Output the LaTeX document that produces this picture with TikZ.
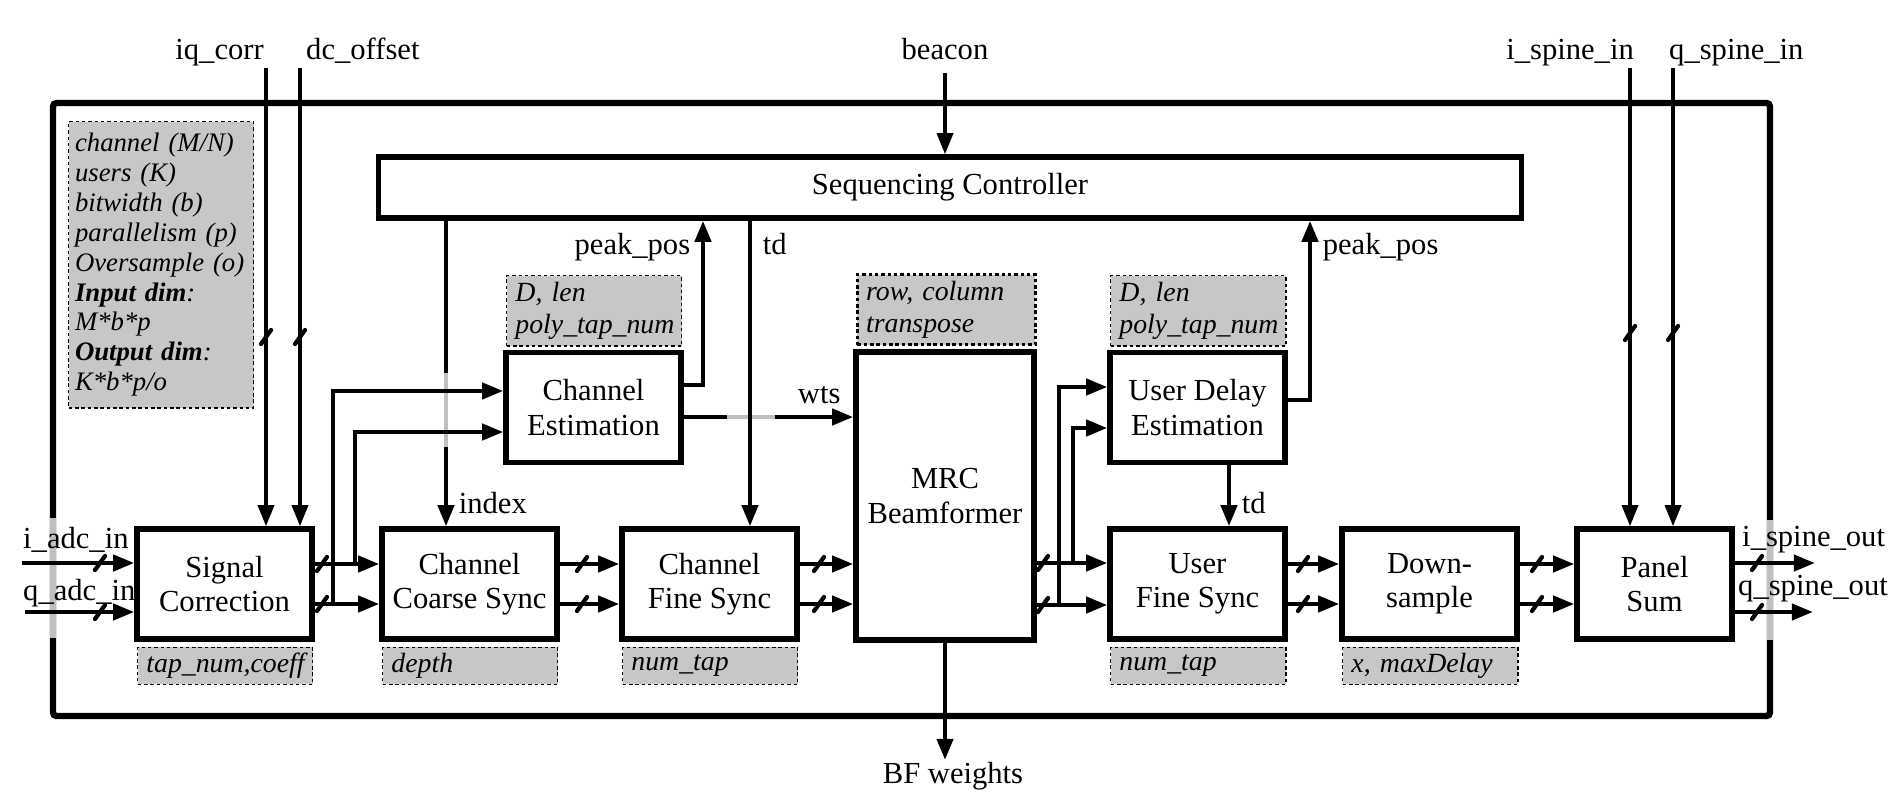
\documentclass[tikz,border=0pt]{standalone}
\usepackage{fontspec}
\setmainfont{Liberation Serif}
\usetikzlibrary{arrows.meta, positioning}

\tikzset{
  blk/.style = {draw, line width=1.5pt, align=center, minimum width=1.75cm,
                minimum height=1.1cm, inner sep=1pt, font=\fontsize{8.7}{9.7}\selectfont},
  parbox/.style = {draw, dash pattern=on 1pt off 0.8pt, line width=0.4pt, fill=black!22,
                   align=left, inner xsep=2.5pt, inner ysep=1pt, text width=44.8pt,
                   minimum height=10.5pt, font=\fontsize{7.9}{9.1}\selectfont\itshape},
  sig/.style = {line width=1.3pt, -{Triangle[length=6pt,width=4.5pt]}},
  ctl/.style = {line width=1.1pt, -{Triangle[length=6pt,width=4.5pt]}},
  lbl/.style = {font=\fontsize{8.7}{9.7}\selectfont, inner sep=1pt},
  hop/.style = {draw=black!25, line width=1.3pt},
  bus/.pic = {\draw[line width=1.2pt, line cap=round] (-5,7) -- (5,-7);},
}

\begin{document}
\begin{tikzpicture}[x=0.01cm, y=-0.01cm]
    \useasboundingbox (0,0) rectangle (1900,800);

    % outer frame
    \draw[line width=1.8pt, rounded corners=1pt] (53,103) rectangle (1770,716);
    \draw[hop, line width=1.8pt] (53,518) -- (53,638);
    \draw[hop, line width=1.8pt] (1770,520) -- (1770,640);

    % blocks
    \node[blk, minimum width=11.42cm, minimum height=0.61cm](Seq_Ctrl) at (950,187.5) {Sequencing Controller};
    \node[blk](Sig_Corr) at (224.5,584) {Signal\\Correction};
    \node[blk](Coarse_Sync) at (469.5,584) {Channel\\Coarse Sync};
    \node[blk](Fine_Sync) at (709.5,584) {Channel\\Fine Sync};
    \node[blk](Ch_Est) at (593.5,407.5) {Channel\\Estimation};
    \node[blk, minimum width=1.78cm, minimum height=2.88cm](MRC) at (945,496) {MRC\\Beamformer};
    \node[blk](User_Delay) at (1197.5,407.5) {User Delay\\Estimation};
    \node[blk](User_Fine) at (1197.5,584) {User\\Fine Sync};
    \node[blk](Down_Smp) at (1429.5,584) {Down-\\sample};
    \node[blk, minimum width=1.55cm](Panel_Sum) at (1654.5,584) {Panel\\Sum};

    % parameter boxes
    \node[parbox, anchor=north west, inner xsep=1.8pt, text width=49pt, minimum height=2.86cm,
          font=\fontsize{7.6}{8.5}\selectfont\itshape](Gen_Par) at (68,121)
        {channel (M/N)\\users (K)\\bitwidth (b)\\parallelism (p)\\Oversample (o)\\
         \textbf{Input dim}:\\M*b*p\\\textbf{Output dim}:\\K*b*p/o};
    \node[parbox, below right=0.5mm and 0.75pt of Sig_Corr.south west](Sig_Par) {tap\_num,coeff};
    \node[parbox, below right=0.5mm and 0.75pt of Coarse_Sync.south west](Coarse_Par) {depth};
    \node[parbox, below right=0.5mm and 0.75pt of Fine_Sync.south west](Fine_Par) {num\_tap};
    \node[parbox, below right=0.5mm and 0.75pt of User_Fine.south west](User_Par) {num\_tap};
    \node[parbox, below right=0.5mm and 0.75pt of Down_Smp.south west](Down_Par) {x, maxDelay};
    \node[parbox, minimum height=20pt, above right=0.3mm and 0.75pt of Ch_Est.north west](Est_Par) {D, len\\poly\_tap\_num};
    \node[parbox, minimum height=20pt, above right=0.3mm and 0.75pt of User_Delay.north west](Delay_Par) {D, len\\poly\_tap\_num};
    \node[parbox, minimum height=20pt, line width=0.8pt, text width=45.6pt,
          above right=0.3mm and 0.75pt of MRC.north west](MRC_Par) {row, column\\transpose};

    % top inputs
    \coordinate (iq_top) at (266,68);
    \coordinate (dc_top) at (300,68);
    \coordinate (bc_top) at (945,73);
    \coordinate (is_top) at (1630,68);
    \coordinate (qs_top) at (1673,68);
    \node[lbl, anchor=base east](iq_lbl) at (268,59) {iq\_corr};
    \node[lbl, anchor=base west](dc_lbl) at (302,59) {dc\_offset};
    \node[lbl, anchor=base](bc_lbl) at (945,59) {beacon};
    \node[lbl, anchor=base east](is_lbl) at (1638,59) {i\_spine\_in};
    \node[lbl, anchor=base west](qs_lbl) at (1665,59) {q\_spine\_in};

    \draw[ctl] (iq_top) -- (iq_top |- Sig_Corr.north);
    \draw[ctl] (dc_top) -- (dc_top |- Sig_Corr.north);
    \draw[ctl] (bc_top) -- (bc_top |- Seq_Ctrl.north);
    \draw[ctl] (is_top) -- (is_top |- Panel_Sum.north);
    \draw[ctl] (qs_top) -- (qs_top |- Panel_Sum.north);

    % adc inputs
    \coordinate (i_adc) at (22,563);
    \coordinate (q_adc) at (25,612);
    \node[lbl, anchor=base west](i_adc_lbl) at (19,548) {i\_adc\_in};
    \node[lbl, anchor=base west](q_adc_lbl) at (19,600) {q\_adc\_in};
    \draw[sig] (i_adc) -- (i_adc -| Sig_Corr.west);
    \draw[sig] (q_adc) -- (q_adc -| Sig_Corr.west);

    % sequencing controller outputs
    \coordinate (idx) at (446,0);
    \draw[sig] (idx |- Seq_Ctrl.south) -- (idx |- Coarse_Sync.north) node[lbl, anchor=south west, inner sep=3pt] {index};
    \coordinate (wts_s) at ([yshift=-0.95mm]Ch_Est.east);
    \draw[sig] (wts_s) -- (wts_s -| MRC.west) node[lbl, anchor=south east, inner sep=3pt] {wts};
    \draw[hop] (446,373) -- (446,447);
    \draw[hop] (727,417) -- (775,417);
    \coordinate (td_x) at (750,0);
    \draw[sig] (td_x |- Seq_Ctrl.south) node[lbl, anchor=north west, inner sep=3pt] {td} -- (td_x |- Fine_Sync.north);

    % main chain
    \draw[sig] ([yshift=2mm]Sig_Corr.east) -- ([yshift=2mm]Coarse_Sync.west);
    \draw[sig] ([yshift=-2mm]Sig_Corr.east) -- ([yshift=-2mm]Coarse_Sync.west);
    \draw[sig] ([yshift=2mm]Coarse_Sync.east) -- ([yshift=2mm]Fine_Sync.west);
    \draw[sig] ([yshift=-2mm]Coarse_Sync.east) -- ([yshift=-2mm]Fine_Sync.west);
    \coordinate (FS_i) at ([yshift=2mm]Fine_Sync.east);
    \coordinate (FS_q) at ([yshift=-2mm]Fine_Sync.east);
    \draw[sig] (FS_i) -- (FS_i -| MRC.west);
    \draw[sig] (FS_q) -- (FS_q -| MRC.west);
    \coordinate (UF_i) at ([yshift=2.1mm]User_Fine.west);
    \coordinate (UF_q) at ([yshift=-2.1mm]User_Fine.west);
    \draw[sig] (UF_i -| MRC.east) -- (UF_i);
    \draw[sig] (UF_q -| MRC.east) -- (UF_q);
    \draw[sig] ([yshift=2mm]User_Fine.east) -- ([yshift=2mm]Down_Smp.west);
    \draw[sig] ([yshift=-2mm]User_Fine.east) -- ([yshift=-2mm]Down_Smp.west);
    \draw[sig] ([yshift=2mm]Down_Smp.east) -- ([yshift=2mm]Panel_Sum.west);
    \draw[sig] ([yshift=-2mm]Down_Smp.east) -- ([yshift=-2mm]Panel_Sum.west);

    % taps to the estimators
    \coordinate (tap_i) at (355,564);
    \coordinate (tap_q) at (333,604);
    \draw[sig] (tap_i) |- ([yshift=-2.45mm]Ch_Est.west);
    \draw[sig] (tap_q) |- ([yshift=1.65mm]Ch_Est.west);
    \coordinate (tap_i2) at (1073,563);
    \coordinate (tap_q2) at (1059,605);
    \draw[sig] (tap_i2) |- ([yshift=-2.05mm]User_Delay.west);
    \draw[sig] (tap_q2) |- ([yshift=2.05mm]User_Delay.west);

    % feedback to the controller
    \coordinate (pk_l) at (703,0);
    \draw[sig] ([yshift=2.25mm]Ch_Est.east) -| (pk_l |- Seq_Ctrl.south) node[lbl, anchor=north east, inner sep=3pt] {peak\_pos};
    \coordinate (pk_r) at (1310,0);
    \draw[sig] ([yshift=0.75mm]User_Delay.east) -| (pk_r |- Seq_Ctrl.south) node[lbl, anchor=north west, inner sep=3pt] {peak\_pos};
    \coordinate (td_r) at (1229,0);
    \draw[sig] (td_r |- User_Delay.south) -- (td_r |- User_Fine.north) node[lbl, anchor=south west, inner sep=3pt] {td};

    % outputs
    \coordinate (bf_end) at (945,760);
    \draw[sig] (MRC.south) -- (bf_end) node[lbl, anchor=north, inner sep=0pt, xshift=0.08cm] {BF weights};
    \coordinate (is_out) at (1815,563);
    \coordinate (qs_out) at (1813,612);
    \draw[sig] (is_out -| Panel_Sum.east) -- (is_out);
    \draw[sig] (qs_out -| Panel_Sum.east) -- (qs_out);
    \node[lbl, anchor=base west](is_out_lbl) at (1738,546) {i\_spine\_out};
    \node[lbl, anchor=base west](qs_out_lbl) at (1734,595) {q\_spine\_out};

    % bus marks
    \pic at (266,337) {bus};
    \pic at (300,337) {bus};
    \pic at (1630,333) {bus};
    \pic at (1673,333) {bus};
    \pic at (100,563) {bus};
    \pic at (100,612) {bus};
    \pic at (322,564) {bus};
    \pic at (322,604) {bus};
    \pic at (582,564) {bus};
    \pic at (582,604) {bus};
    \pic at (819,564) {bus};
    \pic at (819,604) {bus};
    \pic at (1043,563) {bus};
    \pic at (1043,605) {bus};
    \pic at (1303,564) {bus};
    \pic at (1303,604) {bus};
    \pic at (1537,564) {bus};
    \pic at (1537,604) {bus};
    \pic at (1757,563) {bus};
    \pic at (1757,612) {bus};
\end{tikzpicture}
\end{document}
